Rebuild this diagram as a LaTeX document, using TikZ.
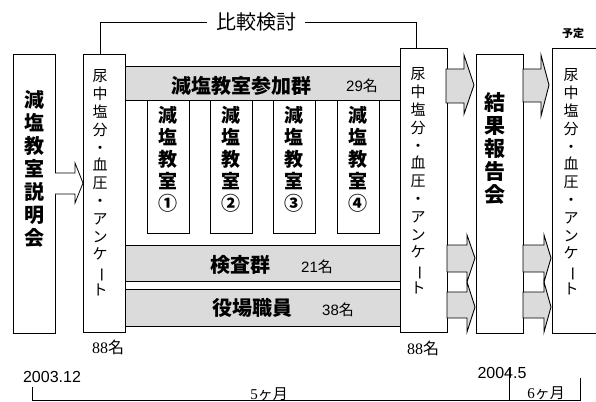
\documentclass[tikz,border=0pt]{standalone}
\usepackage{fontspec}
\usepackage{graphicx}
\setmainfont{Noto Sans CJK JP}
\newfontfamily\vfont{Noto Sans CJK JP}
\newfontfamily\numfont{Liberation Sans}
\newfontfamily\serifnum{Liberation Serif}
\newcommand\vbar{\rotatebox[origin=c]{-90}{ー}}
\begin{document}
\begin{tikzpicture}[x=1pt,y=-1pt,
  box/.style={draw, line width=0.9pt, inner sep=0pt, anchor=north west},
  graybar/.style={draw, line width=1pt, fill=gray!28, inner sep=0pt, anchor=north west},
  garrow/.style={draw, line width=0.9pt, fill=gray!28, line join=miter},
  warrow/.style={draw, line width=0.8pt, fill=white},
  vbig/.style={align=center, inner sep=0pt, font=\vfont\bfseries\fontsize{20}{23}\selectfont},
  vsmall/.style={align=center, inner sep=0pt, font=\vfont\fontsize{15}{17.8}\selectfont},
  bartext/.style={inner sep=0pt, font=\bfseries\fontsize{20}{22}\selectfont},
  cnt/.style={inner sep=0pt, font=\fontsize{15}{17}\selectfont},
  tl/.style={line width=0.8pt}
]
\useasboundingbox (0,0) rectangle (596,401);

% boxes
\node[box, minimum width=42pt, minimum height=279pt] (intro) at (13,54) {};
\node[box, minimum width=42pt, minimum height=278pt] (pre) at (83,54) {};
\node[box, minimum width=47pt, minimum height=284pt] (post) at (400,48) {};
\node[box, minimum width=47pt, minimum height=279pt] (report) at (476,54) {};
\node[inner sep=0pt, anchor=north west, minimum width=44pt, minimum height=285pt] (next) at (552,48) {};
\draw[line width=0.9pt] (next.north east) -- (next.north west) -- (next.south west) -- (next.south east);

% classroom boxes
\foreach \i/\x in {1/147,2/210,3/273,4/337}{
  \node[box, minimum width=42pt, minimum height=133pt] (room\i) at (\x,100) {};
  \node[vbig, font=\vfont\bfseries\fontsize{19}{22}\selectfont] (roomtxt\i) at (\x+21,159) {減\\塩\\教\\室\\\ifcase\i\or ①\or ②\or ③\or ④\fi};
}

% gray bars
\node[graybar, minimum width=275pt, minimum height=34pt] (grp) at (125,66) {};
\node[graybar, minimum width=275pt, minimum height=36pt] (exam) at (125,245) {};
\node[graybar, minimum width=275pt, minimum height=37pt] (staff) at (125,289) {};

\node[bartext] (grptxt) at (241,86) {減塩教室参加群};
\node[cnt] (grpn) at (362,86) {{\numfont 29}名};
\node[bartext] (examtxt) at (240,265) {検査群};
\node[cnt] (examn) at (317,267) {{\numfont 21}名};
\node[bartext] (stafftxt) at (252,308) {役場職員};
\node[cnt] (staffn) at (338,310) {{\numfont 38}名};

% vertical texts
\node[vbig] (introtxt) at (34,169) {減\\塩\\教\\室\\説\\明\\会};
\node[vsmall] (pretxt) at (100,183) {尿\\中\\塩\\分\\・\\血\\圧\\・\\ア\\ン\\ケ\\\vbar\\ト};
\node[vsmall] (posttxt) at (418,181) {尿\\中\\塩\\分\\・\\血\\圧\\・\\ア\\ン\\ケ\\\vbar\\ト};
\node[vbig, font=\vfont\bfseries\fontsize{21}{23}\selectfont] (reporttxt) at (495,149) {結\\果\\報\\告\\会};
\node[vsmall] (nexttxt) at (571,182) {尿\\中\\塩\\分\\・\\血\\圧\\・\\ア\\ン\\ケ\\\vbar\\ト};
\node[inner sep=0pt, font=\bfseries\fontsize{11}{12}\selectfont] (yotei) at (573,33) {予定};

% comparison bracket
\node[inner sep=0pt, inner xsep=9pt, font=\fontsize{20}{22}\selectfont] (cmp) at (256,22) {比較検討};
\draw[line width=0.8pt] (pre.north -| 100,0) -- (100,22) -- (cmp.west);
\draw[line width=0.8pt] (cmp.east) -- (416,22) -- (post.north -| 416,0);

% white arrow
\draw[warrow] (55,173) -- (75,173) -- (75,163) -- (83,183) -- (75,203) -- (75,194) -- (55,194);

% gray block arrows
\draw[garrow] (446,69) -- (464,69) -- (464,55) -- (474,85) -- (464,114) -- (464,103) -- (446,103) -- cycle;
\draw[garrow] (523,69) -- (541,69) -- (541,55) -- (549,85) -- (541,116) -- (541,102) -- (523,102) -- cycle;
\draw[garrow] (447,245) -- (467,245) -- (467,235) -- (475,258) -- (467,282) -- (467,272) -- (447,272) -- cycle;
\draw[garrow] (447,292) -- (467,292) -- (467,282) -- (475,307) -- (467,332) -- (467,318) -- (447,318) -- cycle;
\draw[garrow] (523,245) -- (544,245) -- (544,235) -- (551,258) -- (544,282) -- (544,272) -- (523,272) -- cycle;
\draw[garrow] (523,292) -- (544,292) -- (544,282) -- (551,307) -- (544,332) -- (544,318) -- (523,318) -- cycle;

% counts
\node[inner sep=0pt, font=\fontsize{16}{18}\selectfont] (n1) at (108,347) {{\serifnum 88}名};
\node[inner sep=0pt, font=\fontsize{16}{18}\selectfont] (n2) at (423,348) {{\serifnum 88}名};

% timeline
\node[inner sep=0pt, font=\numfont\fontsize{16}{18}\selectfont] (d1) at (52,377) {2003.12};
\node[inner sep=0pt, font=\numfont\fontsize{16}{18}\selectfont] (d2) at (502,373) {2004.5};
\node[inner sep=0pt, font=\fontsize{15}{17}\selectfont] (m5) at (269,394) {{\serifnum 5}ヶ月};
\node[inner sep=0pt, font=\fontsize{15}{17}\selectfont] (m6) at (546,393) {{\serifnum 6}ヶ月};
\coordinate (t0) at (32,387);
\coordinate (t1) at (509,368);
\coordinate (t2) at (580,378);
\draw[tl] (t0) -- (32,400) -- (580,400) -- (t2);
\draw[tl] (t1) -- (509,400);
\end{tikzpicture}
\end{document}
